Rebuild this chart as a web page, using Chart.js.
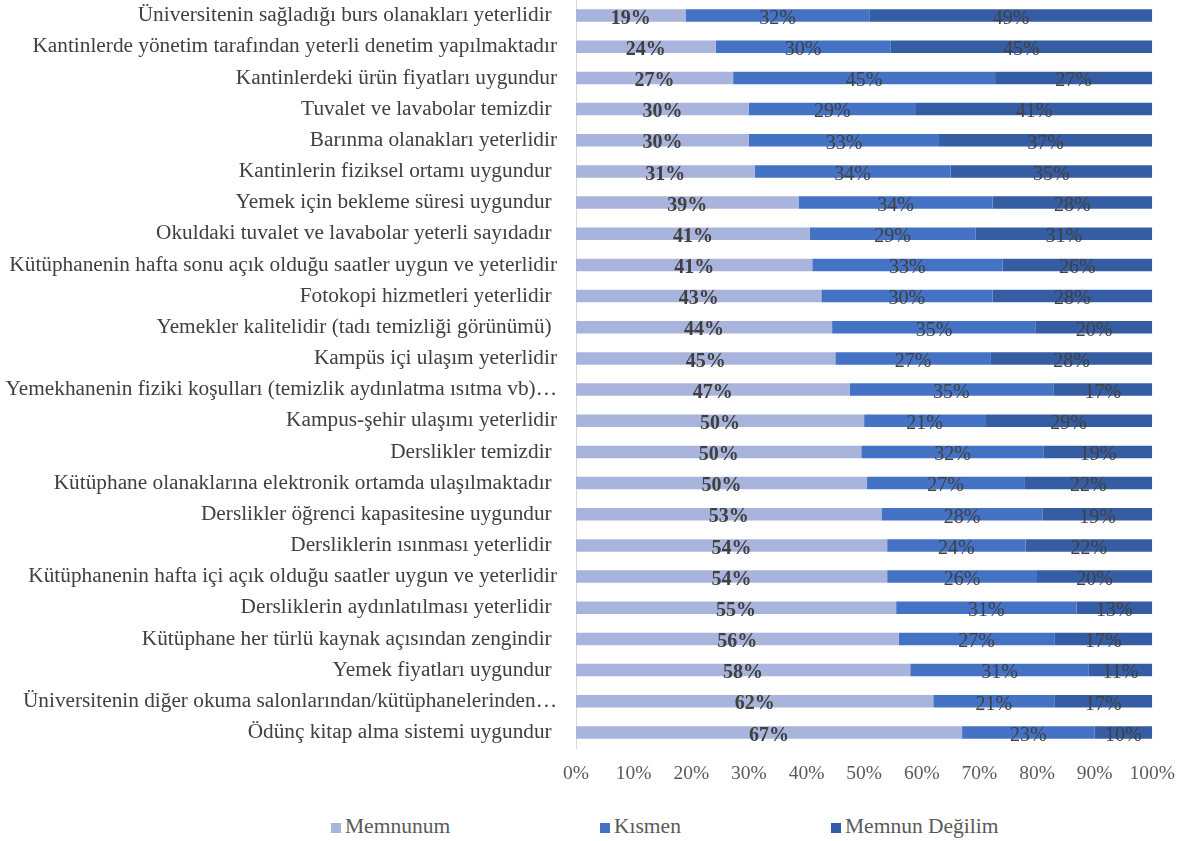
<!DOCTYPE html>
<html lang="tr">
<head>
<meta charset="utf-8">
<title>Memnuniyet</title>
<script src="https://cdn.jsdelivr.net/npm/chart.js@4"></script>
<style>
  body { margin: 0; background: #fff; font-family: "Liberation Serif", "Times New Roman", serif; }
  #wrap { position: relative; width: 1189px; height: 800px; }
  #legend { position: relative; width: 1189px; height: 41px; color: #595959; font-size: 21.5px; }
  #legend span.item { position: absolute; top: 14px; white-space: nowrap; }
  #legend i { display: inline-block; width: 10px; height: 10px; margin-right: 4px; }
</style>
</head>
<body>
<div id="wrap"><canvas id="chart"></canvas></div>
<div id="legend"></div>
<script>
// categories, top to bottom
const categories = [
  'Üniversitenin sağladığı burs olanakları yeterlidir ',
  'Kantinlerde yönetim tarafından yeterli denetim yapılmaktadır',
  'Kantinlerdeki ürün fiyatları uygundur',
  'Tuvalet ve lavabolar temizdir ',
  'Barınma olanakları yeterlidir',
  'Kantinlerin fiziksel ortamı uygundur ',
  'Yemek için bekleme süresi uygundur ',
  'Okuldaki tuvalet ve lavabolar yeterli sayıdadır ',
  'Kütüphanenin hafta sonu açık olduğu saatler uygun ve yeterlidir',
  'Fotokopi hizmetleri yeterlidir ',
  'Yemekler kalitelidir (tadı temizliği görünümü) ',
  'Kampüs içi ulaşım yeterlidir',
  'Yemekhanenin fiziki koşulları (temizlik aydınlatma ısıtma vb)…',
  'Kampus-şehir ulaşımı yeterlidir',
  'Derslikler temizdir ',
  'Kütüphane olanaklarına elektronik ortamda ulaşılmaktadır ',
  'Derslikler öğrenci kapasitesine uygundur ',
  'Dersliklerin ısınması yeterlidir ',
  'Kütüphanenin hafta içi açık olduğu saatler uygun ve yeterlidir',
  'Dersliklerin aydınlatılması yeterlidir ',
  'Kütüphane her türlü kaynak açısından zengindir ',
  'Yemek fiyatları uygundur ',
  'Üniversitenin diğer okuma salonlarından/kütüphanelerinden…',
  'Ödünç kitap alma sistemi uygundur '
];

const seriesNames = ['Memnunum', 'Kısmen', 'Memnun Değilim'];
const seriesColors = ['#a8b4db', '#4472c4', '#355da4'];

// percentages as labelled on the bars
const memnunum = [19, 24, 27, 30, 30, 31, 39, 41, 41, 43, 44, 45, 47, 50, 50, 50, 53, 54, 54, 55, 56, 58, 62, 67];
const kismen   = [32, 30, 45, 29, 33, 34, 34, 29, 33, 30, 35, 27, 35, 21, 32, 27, 28, 24, 26, 31, 27, 31, 21, 23];
const degilim  = [49, 45, 27, 41, 37, 35, 28, 31, 26, 28, 20, 28, 17, 29, 19, 22, 19, 22, 20, 13, 17, 11, 17, 10];

const xTicks = [0, 10, 20, 30, 40, 50, 60, 70, 80, 90, 100];

const FONT = '"Liberation Serif", "Times New Roman", serif';
const TEXT = '#404040';

const raw = [memnunum, kismen, degilim];
// 100% stacked: each row is scaled to its own total
const totals = categories.map((_, i) => memnunum[i] + kismen[i] + degilim[i]);

const datasets = raw.map((vals, k) => ({
  label: seriesNames[k],
  data: vals.map((v, i) => v / totals[i] * 100),
  raw: vals,
  backgroundColor: seriesColors[k],
  borderWidth: 0,
  categoryPercentage: 1,
  barPercentage: 0.4
}));

// labels centred in each segment, first series in bold
const segmentLabels = {
  id: 'segmentLabels',
  afterDatasetsDraw(chart) {
    const ctx = chart.ctx;
    ctx.save();
    ctx.fillStyle = TEXT;
    ctx.textAlign = 'center';
    ctx.textBaseline = 'middle';
    chart.data.datasets.forEach((ds, k) => {
      ctx.font = (k === 0 ? 'bold ' : '') + '20px ' + FONT;
      chart.getDatasetMeta(k).data.forEach((bar, i) => {
        ctx.fillText(ds.raw[i] + '%', (bar.x + bar.base) / 2, bar.y + 3);
      });
    });
    ctx.restore();
  }
};

new Chart(document.getElementById('chart'), {
  type: 'bar',
  data: { labels: categories, datasets: datasets },
  plugins: [segmentLabels],
  options: {
    indexAxis: 'y',
    responsive: true,
    maintainAspectRatio: false,
    animation: false,
    layout: { padding: { left: 0, right: 13, top: 0, bottom: 0 } },
    plugins: {
      legend: { display: false },
      tooltip: { enabled: false }
    },
    scales: {
      x: {
        stacked: true,
        min: 0,
        max: 100,
        afterBuildTicks: (scale) => { scale.ticks = xTicks.map(v => ({ value: v })); },
        afterFit: (scale) => { scale.height = 52; },
        grid: { display: false, drawTicks: false },
        border: { display: false },
        ticks: {
          padding: 14,
          color: '#595959',
          font: { family: FONT, size: 19.5 },
          callback: (v) => v + '%'
        }
      },
      y: {
        stacked: true,
        afterFit: (scale) => {
          scale.width = 576;
          scale.paddingTop = 0;
          scale.paddingBottom = 0;
        },
        grid: { display: false, drawTicks: false },
        border: { display: true, color: '#d9d9d9', width: 1 },
        ticks: {
          padding: 19,
          color: TEXT,
          autoSkip: false,
          font: { family: FONT, size: 21.3 }
        }
      }
    }
  }
});

// legend below the chart
const legendLeft = [331, 600, 831];
const legend = document.getElementById('legend');
seriesNames.forEach((name, k) => {
  const item = document.createElement('span');
  item.className = 'item';
  item.style.left = legendLeft[k] + 'px';
  const box = document.createElement('i');
  box.style.background = seriesColors[k];
  item.appendChild(box);
  item.appendChild(document.createTextNode(name));
  legend.appendChild(item);
});
</script>
</body>
</html>
